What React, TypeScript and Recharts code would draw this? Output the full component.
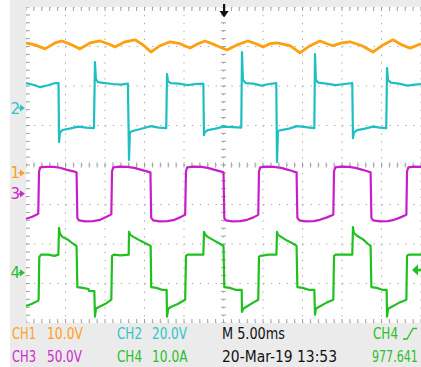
import React from "react";
import { CartesianGrid, Line, LineChart, ReferenceLine, XAxis, YAxis } from "recharts";

// time in ms, value in channel units
const ch1Trace = [
  [0, 32.9], [1.14, 32.4], [2.41, 31.4], [3.67, 32.9], [4.56, 33.4], [5.82, 32.4], [6.84, 31.4],
  [8.1, 32.9], [9.37, 33.4], [10.38, 32.7], [11.27, 31.9], [12.53, 33.2], [13.8, 33.7], [14.81, 32.4],
  [15.82, 30.6], [16.96, 32.2], [18.23, 33.2], [19.49, 32.7], [20.76, 31.6], [21.77, 32.7], [22.66, 33.4],
  [23.92, 32.4], [25.44, 31.1], [26.71, 32.4], [28.1, 33.4], [29.11, 32.7], [30.0, 31.9], [30.89, 32.7],
  [31.77, 32.9], [33.42, 32.2], [34.68, 30.4], [35.95, 32.2], [37.22, 33.4], [38.1, 32.7], [38.86, 32.2],
  [40.0, 32.9], [41.01, 33.2], [42.53, 32.2], [43.92, 30.6], [45.19, 32.4], [46.46, 33.7], [47.59, 32.4],
  [48.61, 31.6], [50, 32.7],
];

const ch2Trace = [
  [0, 12.7], [1.14, 11.6], [1.8, 10.6], [2.8, 11.6], [3.7, 12.7], [4.12, 12.7],
  [4.18, -17.2], [4.3, -12.5], [4.6, -11.1], [5.5, -10.4], [6.6, -9.4], [7.6, -9.9], [8.6, -10.1],
  [8.73, 23.3], [8.85, 14.7], [9.1, 13.2], [10.0, 12.7], [11.0, 12.2], [12.0, 11.9], [12.9, 12.4],
  [13.04, -26.3], [13.15, -12.2], [13.5, -11.6], [14.5, -10.6], [15.8, -9.1], [16.8, -9.9], [17.75, -10.1],
  [17.85, 17.2], [17.97, 13.7], [18.3, 12.7], [19.3, 12.4], [20.5, 11.6], [21.5, 12.2], [22.45, 12.4],
  [22.53, -13.7], [22.65, -12.2], [23.0, -11.1], [24.0, -10.4], [25.0, -9.4], [26.2, -9.6], [27.25, -9.9],
  [27.34, 28.4], [27.46, 14.2], [27.8, 12.7], [28.8, 12.4], [29.8, 11.4], [30.8, 12.2], [31.68, 12.7],
  [31.77, -27.3], [31.9, -11.6], [32.3, -11.1], [33.3, -10.4], [34.3, -9.1], [35.4, -9.6], [36.5, -10.1],
  [36.58, 27.3], [36.7, 14.2], [37.0, 12.9], [38.0, 12.4], [39.2, 11.6], [40.3, 12.2], [41.3, 12.7],
  [41.39, -15.2], [41.5, -12.4], [41.9, -11.1], [42.9, -10.4], [43.9, -9.4], [44.8, -9.9], [45.6, -10.1],
  [45.7, 20.3], [45.82, 14.2], [46.2, 12.9], [47.2, 12.4], [48.3, 11.4], [49.2, 11.9], [50, 12.2],
];

const ch3Trace = [
  [0, -31.6], [0.8, -29.1], [1.55, -25.3],
  [1.65, 28], [1.8, 33.5], [2.5, 34.2], [3.5, 34.2], [4.3, 33], [5.2, 30.4], [6.0, 28.5], [6.4, 27.2],
  [6.5, -30.4], [6.7, -33.5], [7.5, -34.8], [8.5, -34.5], [9.4, -32.9], [10.2, -29.1], [10.8, -26],
  [10.89, 28.5], [11.05, 33.5], [11.8, 34.5], [12.8, 34.2], [13.7, 32.9], [14.6, 30.4], [15.3, 28.5], [15.75, 27.2],
  [15.85, -30.4], [16.1, -33.5], [16.9, -34.8], [17.9, -34.5], [18.8, -32.9], [19.5, -29.8], [20.15, -26.6],
  [20.25, 28.5], [20.4, 33.5], [21.2, 34.5], [22.2, 34.2], [23.0, 32.9], [23.9, 30.4], [24.6, 28.5], [25.0, 27.2],
  [25.1, -30.4], [25.3, -33.5], [26.1, -34.8], [27.1, -34.5], [28.0, -32.9], [28.8, -29.8], [29.4, -26.6],
  [29.49, 28.5], [29.65, 33.5], [30.4, 34.5], [31.4, 34.2], [32.3, 32.9], [33.2, 30.4], [33.8, 28.5], [34.25, 27.2],
  [34.35, -30.4], [34.6, -33.5], [35.4, -34.8], [36.4, -34.5], [37.2, -32.9], [38.1, -29.8], [38.9, -26.6],
  [38.99, 28.5], [39.15, 33.5], [39.9, 34.5], [40.9, 34.2], [41.7, 32.9], [42.6, 30.4], [43.2, 28.5], [43.62, 27.2],
  [43.72, -30.4], [43.95, -33.5], [44.8, -34.8], [45.8, -34.5], [46.6, -32.9], [47.4, -29.8], [48.15, -26.6],
  [48.23, 28.5], [48.4, 33.5], [49.1, 34.5], [50, 34.2],
];

const ch4Trace = [
  [0, -8.4], [0.7, -7.9], [1.5, -7.1], [1.6, -6.8],
  [1.68, 4.0], [1.9, 4.6], [2.8, 4.6], [3.6, 4.3], [4.1, 4.6],
  [4.18, 11.4], [4.3, 9.9], [4.6, 9.1], [5.3, 8.4], [6.0, 7.3], [6.4, 6.8],
  [6.5, -3.6], [7.2, -3.8], [7.9, -4.1], [8.0, -4.6], [8.65, -4.6],
  [8.73, -11.1], [8.85, -9.1], [9.3, -8.6], [10.0, -7.9], [10.8, -6.8],
  [10.89, 4.3], [11.1, 4.6], [12.0, 4.4], [13.0, 4.6],
  [13.04, 10.4], [13.2, 9.6], [13.6, 9.1], [14.5, 8.1], [15.3, 7.3], [15.78, 6.8],
  [15.85, -3.6], [16.5, -3.8], [17.2, -4.3], [17.8, -4.3],
  [17.85, -11.1], [18.0, -9.1], [18.4, -8.6], [19.2, -7.9], [20.15, -6.8],
  [20.25, 4.3], [20.45, 4.6], [21.5, 4.6], [22.45, 4.6],
  [22.53, 10.4], [22.7, 9.6], [23.0, 9.1], [23.9, 8.1], [24.6, 7.3], [25.0, 6.8],
  [25.1, -3.6], [25.8, -3.8], [26.5, -4.3], [27.3, -4.3],
  [27.34, -9.9], [27.5, -9.1], [27.9, -8.6], [28.7, -7.6], [29.4, -6.8],
  [29.49, 4.1], [29.7, 4.3], [30.7, 4.6], [31.7, 4.6],
  [31.77, 10.4], [31.9, 9.6], [32.3, 9.1], [33.1, 8.1], [33.9, 7.3], [34.25, 6.8],
  [34.35, -3.6], [35.0, -3.8], [35.8, -4.3], [36.5, -4.3],
  [36.58, -10.6], [36.7, -9.1], [37.1, -8.6], [38.0, -7.6], [38.9, -6.8],
  [38.99, 4.3], [39.2, 4.6], [40.3, 4.6], [41.3, 4.6],
  [41.39, 11.6], [41.5, 10.1], [41.9, 9.4], [42.7, 8.4], [43.3, 7.3], [43.62, 6.8],
  [43.72, -3.6], [44.4, -3.8], [45.1, -4.3], [45.65, -4.3],
  [45.7, -11.1], [45.85, -9.1], [46.3, -8.6], [47.2, -7.6], [48.15, -6.8],
  [48.23, 4.3], [48.45, 4.6], [50, 4.6],
];

// units per division and ground marker position (divisions from centre)
const perDiv = [10, 20, 50, 10];
const groundDiv = [-0.2, 1.44, -0.73, -2.73];

const channelLabels = ["CH1", "CH2", "CH3", "CH4"];
const channelScales = ["10.0V", "20.0V", "50.0V", "10.0A"];
const timebase = "M 5.00ms";
const dateStamp = "20-Mar-19 13:53";
const trigFreq = "977.641";

const timeTicks = [0, 5, 10, 15, 20, 25, 30, 35, 40, 45, 50];
const divTicks = [-4, -3, -2, -1, 0, 1, 2, 3, 4];
const minorTime = Array.from({ length: 51 }, (_, i) => i);
const minorDiv = Array.from({ length: 41 }, (_, i) => -4 + i * 0.2);

const colors = ["#ffa010", "#1ebfc2", "#c81ec8", "#1fc01f"];
const textColors = ["#ffa020", "#30c4c8", "#cc2ccc", "#2cbf2c"];

const toDiv = (pts: number[][], ch: number) =>
  pts.map(([t, v]) => ({ t, y: groundDiv[ch] + v / perDiv[ch] }));

const traces = [ch1Trace, ch2Trace, ch3Trace, ch4Trace].map((p, i) => toDiv(p, i));

const TICK = "#a0a0a0";
const PX_DIV = 39.5;
const CY = 165;

function Marker({ n, color }: { n: number; color: string }) {
  const y = CY - groundDiv[n - 1] * PX_DIV;
  return (
    <g fill={color}>
      <text x={10.5} y={y + 5.5} fontSize={15} fontFamily="DejaVu Sans">{n}</text>
      <polygon points={`${20},${y - 3.5} ${25},${y} ${20},${y + 3.5}`} />
      <rect x={18.5} y={y - 0.8} width={3} height={1.6} />
    </g>
  );
}

function StatusText({ x, y, w, color, children }: any) {
  return (
    <text x={x} y={y} fill={color} fontSize={15} fontFamily="DejaVu Sans" textLength={w} lengthAdjust="spacingAndGlyphs">
      {children}
    </text>
  );
}

export default function App() {
  return (
    <div style={{ position: "fixed", left: 0, top: 0, width: 421, height: 367, background: "#fff", overflow: "hidden" }}>
      <div style={{ position: "absolute", left: 10, top: 0, width: 411, height: 367, background: "#ebebeb" }} />
      <div style={{ position: "absolute", left: 26, top: 7, background: "#fff" }}>
        <LineChart width={395} height={316} margin={{ top: 0, right: 0, bottom: 0, left: 0 }}>
          <XAxis type="number" dataKey="t" domain={[0, 50]} ticks={timeTicks} hide />
          <YAxis type="number" domain={[-4, 4]} ticks={divTicks} hide />
          <CartesianGrid stroke="#ababab" strokeDasharray="1.4 6.5" />
          {minorTime.map((t) => (
            <ReferenceLine key={"tt" + t} segment={[{ x: t, y: 4 }, { x: t, y: 3.9 }]} stroke={TICK} />
          ))}
          {minorTime.map((t) => (
            <ReferenceLine key={"tb" + t} segment={[{ x: t, y: -4 }, { x: t, y: -3.9 }]} stroke={TICK} />
          ))}
          {minorTime.map((t) => (
            <ReferenceLine key={"tc" + t} segment={[{ x: t, y: -0.065 }, { x: t, y: 0.065 }]} stroke={TICK} />
          ))}
          {minorDiv.map((d) => (
            <ReferenceLine key={"dl" + d} segment={[{ x: 0, y: d }, { x: 0.5, y: d }]} stroke={TICK} />
          ))}
          {minorDiv.map((d) => (
            <ReferenceLine key={"dc" + d} segment={[{ x: 24.68, y: d }, { x: 25.32, y: d }]} stroke={TICK} />
          ))}
          {traces.map((data, i) => (
            <Line
              key={i}
              data={data}
              dataKey="y"
              type="linear"
              stroke={colors[i]}
              strokeWidth={i === 0 ? 2.8 : 2.2}
              strokeLinejoin="round"
              dot={false}
              activeDot={false}
              isAnimationActive={false}
            />
          ))}
        </LineChart>
      </div>
      <svg width={421} height={367} style={{ position: "absolute", left: 0, top: 0, pointerEvents: "none" }}>
        <Marker n={2} color={textColors[1]} />
        <Marker n={1} color={textColors[0]} />
        <Marker n={3} color={textColors[2]} />
        <Marker n={4} color={textColors[3]} />
        {/* trigger position */}
        <rect x={223} y={4} width={2.2} height={8} fill="#111" />
        <polygon points="219.5,11 228.7,11 224.1,17.5" fill="#111" />
        {/* trigger level */}
        <polygon points="412,270 418,264.5 418,275.5" fill={colors[3]} />
        <rect x={417} y={268.8} width={5} height={2.6} fill={colors[3]} />

        <StatusText x={12} y={339} w={24} color={textColors[0]}>{channelLabels[0]}</StatusText>
        <StatusText x={47} y={339} w={36} color={textColors[0]}>{channelScales[0]}</StatusText>
        <StatusText x={117} y={339} w={25} color={textColors[1]}>{channelLabels[1]}</StatusText>
        <StatusText x={152} y={339} w={35} color={textColors[1]}>{channelScales[1]}</StatusText>
        <StatusText x={222} y={339} w={63} color="#111">{timebase}</StatusText>
        <StatusText x={373} y={339} w={25} color={textColors[3]}>{channelLabels[3]}</StatusText>
        <polyline points="403,339 407,339 413,328.5 417,328.5" fill="none" stroke={textColors[3]} strokeWidth={1.3} />

        <StatusText x={12} y={362} w={24} color={textColors[2]}>{channelLabels[2]}</StatusText>
        <StatusText x={47} y={362} w={35} color={textColors[2]}>{channelScales[2]}</StatusText>
        <StatusText x={117} y={362} w={25} color={textColors[3]}>{channelLabels[3]}</StatusText>
        <StatusText x={152} y={362} w={35.5} color={textColors[3]}>{channelScales[3]}</StatusText>
        <StatusText x={222} y={362} w={115} color="#111">{dateStamp}</StatusText>
        <text
          transform="translate(372,362) scale(0.74,1)"
          fill={textColors[3]}
          fontSize={15}
          fontFamily="DejaVu Sans"
        >
          {trigFreq}
        </text>
      </svg>
    </div>
  );
}
